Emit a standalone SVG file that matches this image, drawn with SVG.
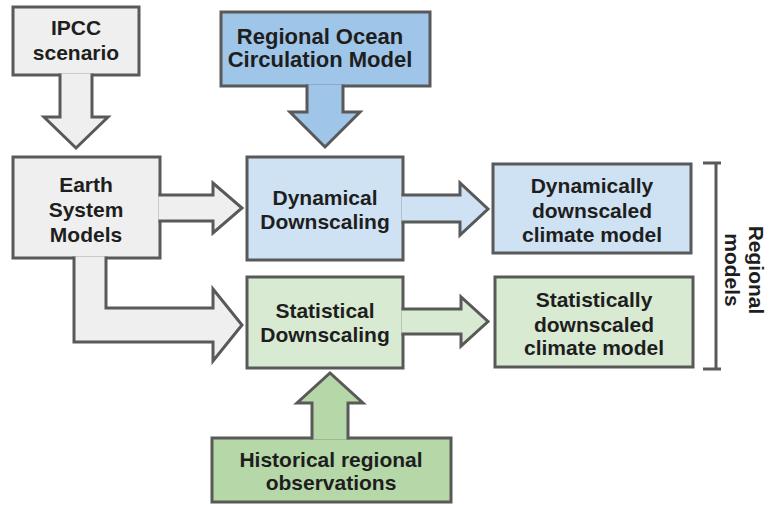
<svg xmlns="http://www.w3.org/2000/svg" width="772" height="505" viewBox="0 0 772 505">
<style>
.s{stroke:#595959;stroke-width:3;stroke-linejoin:miter}
.gray{fill:#efefef}
.blue{fill:#9fc5e8}
.lblue{fill:#cfe2f3}
.lgreen{fill:#d9ead3}
.green{fill:#b6d7a8}
text{font-family:"Liberation Sans",Arial,sans-serif;font-weight:bold;font-size:21px;fill:#1e1e1e;text-anchor:middle}
</style>
<rect width="772" height="505" fill="#ffffff"/>
<g id="ipcc">
<rect class="s gray" x="13" y="7" width="126" height="68"/>
<text x="76" y="35">IPCC</text>
<text x="76" y="60">scenario</text>
</g>
<g id="ocean">
<rect class="s blue" x="221" y="12" width="209" height="74"/>
<text x="320" y="44" style="font-size:22px">Regional Ocean</text>
<text x="320" y="67" style="font-size:22px">Circulation Model</text>
</g>
<g id="esm">
<rect class="s gray" x="13" y="157" width="147" height="101"/>
<text x="86" y="192">Earth</text>
<text x="86" y="217">System</text>
<text x="86" y="242">Models</text>
</g>
<g id="dyn">
<rect class="s lblue" x="247" y="157" width="156" height="103"/>
<text x="325" y="205">Dynamical</text>
<text x="325" y="229">Downscaling</text>
</g>
<g id="stat">
<rect class="s lgreen" x="247" y="277" width="156" height="91"/>
<text x="325" y="318">Statistical</text>
<text x="325" y="342">Downscaling</text>
</g>
<g id="dynmodel">
<rect class="s lblue" x="493" y="164" width="198" height="89"/>
<text x="592" y="193">Dynamically</text>
<text x="592" y="218">downscaled</text>
<text x="592" y="242">climate model</text>
</g>
<g id="statmodel">
<rect class="s lgreen" x="495" y="277" width="198" height="90"/>
<text x="594" y="307">Statistically</text>
<text x="594" y="332">downscaled</text>
<text x="594" y="355">climate model</text>
</g>
<g id="hist">
<rect class="s green" x="212" y="438" width="239" height="64"/>
<text x="331" y="467">Historical regional</text>
<text x="331" y="490">observations</text>
</g>
<g id="regional">
<path d="M703,163 H721 M716,163 V369 M703,369 H721" fill="none" stroke="#595959" stroke-width="3"/>
<text transform="rotate(90)" x="270" y="-749">Regional</text>
<text transform="rotate(90)" x="270" y="-725">models</text>
</g>
<g id="connectors">
<path class="s gray" d="M60,73.5 V117 H44 L76,148 L108,117 H92 V73.5"/>
<path class="s blue" d="M307,84.5 V112 H290 L325,147 L360,112 H343 V84.5"/>
<path class="s gray" d="M158.5,195 H213 V183 L242,208 L213,233 V221 H158.5"/>
<path class="s gray" d="M74,256.5 V342 H213 V361 L242,325 L213,289 V308 H106 V256.5"/>
<path class="s lblue" d="M401.5,195 H460 V183 L488,209 L460,235 V222 H401.5"/>
<path class="s lgreen" d="M401.5,309 H461 V297 L488,321.5 L461,346 V334 H401.5"/>
<path class="s green" d="M312,439.5 V403 H297 L330,373 L363,403 H348 V439.5"/>
</g>
</svg>
